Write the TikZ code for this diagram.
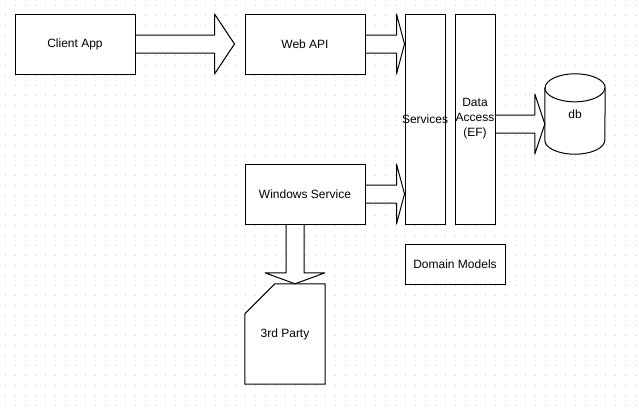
\documentclass[tikz,border=0pt]{standalone}
\usepackage{fontspec}
\setmainfont{Liberation Sans}
\usetikzlibrary{calc}
\definecolor{GridDot}{RGB}{200,200,200}
\pgfdeclarelayer{grid}
\pgfdeclarelayer{back}
\pgfsetlayers{grid,back,main}

% wide arrow to the right: from, tip, head length
\newcommand{\fatright}[3]{%
  \draw[fatarrow] ([yshift=9pt]#1) -- ([xshift=-#3pt,yshift=9pt]#2)
    -- ([xshift=-#3pt,yshift=30pt]#2) -- (#2)
    -- ([xshift=-#3pt,yshift=-30pt]#2) -- ([xshift=-#3pt,yshift=-9pt]#2)
    -- ([yshift=-9pt]#1);}
% wide arrow downwards: from, tip, head length
\newcommand{\fatdown}[3]{%
  \draw[fatarrow] ([xshift=-9pt]#1) -- ([xshift=-9pt,yshift=#3pt]#2)
    -- ([xshift=-30pt,yshift=#3pt]#2) -- (#2)
    -- ([xshift=30pt,yshift=#3pt]#2) -- ([xshift=9pt,yshift=#3pt]#2)
    -- ([xshift=9pt]#1);}

\begin{document}
\begin{tikzpicture}[
        x=1pt, y=1pt,
        font=\fontsize{12}{15}\selectfont,
        box/.style={
            draw,
            fill=white,
            line width=1pt,
            minimum width=120pt,
            minimum height=60pt,
            inner sep=0pt,
            align=center
        },
        tallbox/.style={
            box,
            minimum width=40pt,
            minimum height=210pt
        },
        plain/.style={
            inner sep=0pt,
            align=center
        },
        fatarrow/.style={
            draw,
            fill=white,
            line width=1pt,
            line join=round
        },
        outline/.style={
            draw,
            fill=white,
            line width=1pt
        }
    ]

    \useasboundingbox (0,0) rectangle (639,-413);

    % Dotted grid
    \begin{pgfonlayer}{grid}
    \foreach \gx in {5,15,...,635} {
        \foreach \gy in {5,15,...,405} {
            \fill[GridDot] (\gx-0.5,-\gy-0.5) rectangle ++(1,1);
        }
    }
    \end{pgfonlayer}

    % Clients
    \node[box] (client) at (75,-44) {Client App};
    \node[box] (web) at (305,-44) {Web API};
    \node[box] (winsvc) at (305,-194) {Windows Service};

    % Layers
    \node[tallbox] (services) at (425,-119) {\makebox[0pt]{Services}};
    \node[tallbox] (dataacc) at (475,-119) {Data\\Access\\(EF)};
    \node[box, minimum width=100pt, minimum height=40pt] (domain) at (455,-264) {Domain Models};

    % Storage and external
    \node[plain, minimum width=60pt, minimum height=80pt] (db) at (575,-114) {db};
    \node[plain, minimum width=80pt, minimum height=100pt] (third) at (285,-334) {3rd Party};

    \coordinate (webtip) at ([xshift=-10pt]web.west);
    \coordinate (svctop) at (services.west |- web.east);
    \coordinate (svcbot) at (services.west |- winsvc.east);
    \coordinate (dafrom) at ([yshift=-5pt]dataacc.east);
    \coordinate (dbtip) at (db.west |- dafrom);
    \coordinate (wsfrom) at ([xshift=-10pt]winsvc.south);
    \coordinate (thirdtip) at ([xshift=10pt]third.north);

    \begin{pgfonlayer}{back}
    % db cylinder
    \draw[outline] ([yshift=-14pt]db.north west) -- ([yshift=14pt]db.south west)
        arc[start angle=180, end angle=360, x radius=30pt, y radius=14pt]
        -- ([yshift=-14pt]db.north east)
        arc[start angle=0, end angle=180, x radius=30pt, y radius=14pt] -- cycle;
    \draw[line width=1pt] ([yshift=-14pt]db.north west)
        arc[start angle=180, end angle=360, x radius=30pt, y radius=14pt];
    % 3rd party card
    \draw[outline] ([xshift=30pt]third.north west) -- (third.north east)
        -- (third.south east) -- (third.south west)
        -- ([yshift=-30pt]third.north west) -- cycle;

    \fatright{client.east}{webtip}{20}
    \fatright{web.east}{svctop}{8}
    \fatright{winsvc.east}{svcbot}{8}
    \fatright{dafrom}{dbtip}{10}
    \fatdown{wsfrom}{thirdtip}{11}
    \end{pgfonlayer}

\end{tikzpicture}
\end{document}
